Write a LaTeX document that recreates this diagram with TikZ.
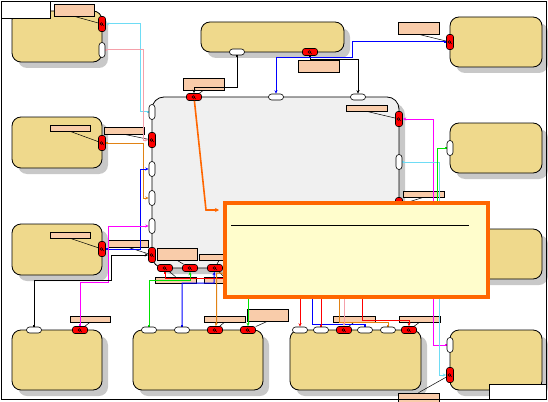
\documentclass[tikz,border=0pt]{standalone}
\usepackage{tikz}
\usetikzlibrary{arrows.meta,shadows}
\pgfdeclarelayer{parts}
\pgfdeclarelayer{wires}
\pgfsetlayers{parts,wires,main}
\definecolor{partYellow}{RGB}{239,217,140}
\definecolor{shadowGray}{RGB}{200,200,200}
\definecolor{coreGray}{RGB}{240,240,240}
\definecolor{tagPeach}{RGB}{249,204,170}
\definecolor{portRed}{RGB}{255,0,0}
\definecolor{noteFill}{RGB}{255,253,204}
\definecolor{noteEdge}{RGB}{255,102,0}
\definecolor{wireCyan}{RGB}{110,220,245}
\definecolor{wirePink}{RGB}{245,160,170}
\definecolor{wireOrange}{RGB}{225,130,20}
\definecolor{wireBlue}{RGB}{0,0,255}
\definecolor{wireMagenta}{RGB}{255,0,255}
\definecolor{wireGreen}{RGB}{0,225,0}
\definecolor{wireRed}{RGB}{255,0,0}
\tikzset{
  part box/.style={draw=black,line width=0.8pt,fill=partYellow,rounded corners=9pt,inner sep=0pt,
    drop shadow={shadow xshift=6pt,shadow yshift=-6pt,fill=shadowGray,opacity=1}},
  core box/.style={part box,fill=coreGray,rounded corners=12pt},
  tag box/.style={draw=black,line width=0.6pt,fill=tagPeach,inner sep=0pt},
  tag line/.style={draw=black,line width=0.5pt},
  port white v/.style={draw=black,line width=0.6pt,fill=white,rounded corners=3pt,inner sep=0pt,minimum width=6pt,minimum height=15pt},
  port white h/.style={port white v,minimum width=15pt,minimum height=6pt},
  port red v/.style={port white v,fill=portRed,rounded corners=2.5pt,minimum width=7pt,
    path picture={\draw[line width=0.45pt] ([xshift=-0.6pt]path picture bounding box.center) circle[radius=1.4pt] ++(1.2pt,-0.8pt) -- ++(1.3pt,-1.2pt);}},
  port red h/.style={port red v,minimum width=15pt,minimum height=7pt},
  wire/.style={line width=1pt,{Square[length=2pt,width=2pt]}-{Stealth[length=3.5pt,width=3pt]}},
  wire sq end/.style={line width=1pt,-{Square[length=2pt,width=2pt]}},
  note arrow/.style={line width=1.6pt,draw=noteEdge,-{Stealth[length=4pt,width=4pt]}}
}
\begin{document}
\begin{tikzpicture}[x=1pt,y=-1pt]
    \useasboundingbox (0,0) rectangle (548,401);
    \begin{pgfonlayer}{parts}
    \node[part box,minimum width=90pt,minimum height=51pt] (tlBox) at (57,36.5) {};
    \node[part box,minimum width=143pt,minimum height=30pt] (topBox) at (272.5,37) {};
    \node[part box,minimum width=92pt,minimum height=50pt] (trBox) at (496,42) {};
    \node[part box,minimum width=90pt,minimum height=51pt] (laBox) at (57,142.5) {};
    \node[part box,minimum width=90pt,minimum height=51pt] (lbBox) at (57,249.5) {};
    \node[part box,minimum width=92pt,minimum height=50pt] (raBox) at (496,148) {};
    \node[part box,minimum width=92pt,minimum height=50pt] (rbBox) at (496,254) {};
    \node[part box,minimum width=90pt,minimum height=60pt] (baBox) at (57,360) {};
    \node[part box,minimum width=130pt,minimum height=60pt] (bbBox) at (198,360) {};
    \node[part box,minimum width=131pt,minimum height=60pt] (bcBox) at (355.5,360) {};
    \node[part box,minimum width=92pt,minimum height=60pt] (bdBox) at (496,360) {};
    \node[core box,minimum width=247pt,minimum height=171pt] (coreBox) at (275.5,182.5) {};
    % tags
    \node[tag box,minimum width=40pt,minimum height=12pt] (tagA) at (74,10) {};
    \node[tag box,minimum width=41pt,minimum height=12pt] (tagB) at (203.5,84) {};
    \node[tag box,minimum width=41pt,minimum height=12pt] (tagC) at (318.5,66) {};
    \node[tag box,minimum width=41pt,minimum height=12pt] (tagD) at (418.5,28) {};
    \node[tag box,minimum width=40pt,minimum height=7pt] (tagE) at (124,130.5) {};
    \node[tag box,minimum width=40pt,minimum height=6pt] (tagF) at (70,128) {};
    \node[tag box,minimum width=41pt,minimum height=6pt] (tagG) at (366.5,108) {};
    \node[tag box,minimum width=41pt,minimum height=6pt] (tagH) at (423.5,194) {};
    \node[tag box,minimum width=40pt,minimum height=6pt] (tagI) at (70,235) {};
    \node[tag box,minimum width=40pt,minimum height=7pt] (tagJ) at (128,243.5) {};
    \node[tag box,minimum width=40pt,minimum height=12pt] (tagK) at (177,254) {};
    \node[tag box,minimum width=40pt,minimum height=6pt] (tagL) at (219,257) {};
    \node[tag box,minimum width=41pt,minimum height=6pt] (tagM) at (175.5,280) {};
    \node[tag box,minimum width=40pt,minimum height=6pt] (tagN) at (224,280) {};
    \node[tag box,minimum width=40pt,minimum height=6pt] (tagO) at (90,319) {};
    \node[tag box,minimum width=41pt,minimum height=6pt] (tagP) at (224.5,319) {};
    \node[tag box,minimum width=41pt,minimum height=12pt] (tagQ) at (267.5,315) {};
    \node[tag box,minimum width=42pt,minimum height=6pt] (tagR) at (354,319) {};
    \node[tag box,minimum width=41pt,minimum height=6pt] (tagS) at (419.5,319) {};
    \node[tag box,minimum width=41pt,minimum height=10pt] (tagT) at (418.5,398) {};
    \end{pgfonlayer}
    % ports
    \path (102,24) node[port red v] (tlR) {} (102,50) node[port white v] (tlW) {};
    \path (237,52) node[port white h] (topW) {} (310,52) node[port red h] (topR) {};
    \path (450,42) node[port red v] (trR) {};
    \path (102,143) node[port red v] (laR) {};
    \path (102,249) node[port red v] (lbR) {};
    \path (450,148) node[port white v] (raW) {};
    \path (34,330) node[port white h] (baW) {} (80,330) node[port red h] (baR) {};
    \path (149,330) node[port white h] (bbW1) {} (182,330) node[port white h] (bbW2) {}
          (215,330) node[port red h] (bbR1) {} (248,330) node[port red h] (bbR2) {};
    \path (300,330) node[port white h] (bcW1) {} (321,330) node[port white h] (bcW2) {}
          (344,330) node[port red h] (bcR1) {} (365,330) node[port white h] (bcW3) {}
          (388,330) node[port white h] (bcW4) {} (409,330) node[port red h] (bcR2) {};
    \path (450,345) node[port white v] (bdW) {} (450,375) node[port red v] (bdR) {};
    \path (194,97) node[port red h] (cTR) {} (276,97) node[port white h] (cTW1) {}
          (358,97) node[port white h] (cTW2) {};
    \path (152,112) node[port white v] (cLW1) {} (152,140) node[port red v] (cLR1) {}
          (152,169) node[port white v] (cLW2) {} (152,198) node[port white v] (cLW3) {}
          (152,226) node[port white v] (cLW4) {} (152,255) node[port red v] (cLR2) {};
    \path (399,119) node[port red v] (cRR1) {} (399,162) node[port white v] (cRW1) {}
          (399,205) node[port red v] (cRR2) {};
    \path (165,268) node[port red h] (cBR1) {} (190,268) node[port red h] (cBR2) {}
          (215,268) node[port red h] (cBR3) {};
    % wire ends hidden under the note
    \coordinate (srcOr) at (240,273);
    \coordinate (srcGr) at (248,285);
    \coordinate (srcBl) at (312,285);
    \coordinate (srcRd) at (321,285);
    \coordinate (srcOr2) at (339,285);
    \coordinate (srcPk) at (344,285);
    \coordinate (srcRd2) at (362,285);
    \coordinate (noteTip) at (219,210);
    \begin{pgfonlayer}{wires}
    \draw[tag line] (tagA.south) -- (tlR);
    \draw[tag line] (tagB.south) -- (cTR);
    \draw[tag line] ([xshift=-8pt]tagC.north) -- (topR);
    \draw[tag line] (tagD.south) -- (trR);
    \draw[tag line] (tagE.south) -- (cLR1);
    \draw[tag line] (tagF.south) -- (laR);
    \draw[tag line] (tagG.south) -- (cRR1);
    \draw[tag line] (tagH.south) -- (cRR2);
    \draw[tag line] (tagI.south) -- (lbR);
    \draw[tag line] (tagJ.south) -- (cLR2);
    \draw[tag line] (tagK.south) -- (cBR2);
    \draw[tag line] (tagL.south) -- (cBR3);
    \draw[tag line] (tagM.north) -- (cBR1);
    \draw[tag line] (tagN.north) -- (cBR3);
    \draw[tag line] (tagO.south) -- (baR);
    \draw[tag line] (tagP.south) -- (bbR1);
    \draw[tag line] (tagQ.south) -- (bbR2);
    \draw[tag line] (tagR.south) -- (bcR1);
    \draw[tag line] (tagS.south) -- (bcR2);
    \draw[tag line] (tagT.north) -- (bdR);
    % wires
    \draw[wire,wireCyan] (cLW1) -- (140,112) -- (140,24) -- (tlR);
    \draw[wire,wirePink] (tlW) -- (143,50) -- (143,140) -- (cLR1);
    \draw[wire,wireOrange] (laR) -- (143,143) -- (143,198) -- (cLW3);
    \draw[wire,wireBlue] (lbR) -- (140,249) -- (140,169) -- (cLW2);
    \draw[wire,wireMagenta] (baR) -- (80,282) -- (108,282) -- (108,226) -- (cLW4);
    \draw[wire,black] (baW) -- (34,280) -- (111,280) -- (111,255) -- (cLR2);
    \draw[wire,black] (topW) -- (237,88) -- (194,88) -- (cTR);
    \draw[wire,black] (topR) -- (310,60) -- (358,60) -- (cTW2);
    \draw[wire,wireBlue] (trR) -- (352,42) -- (352,58) -- (276,58) -- (cTW1);
    \draw[wire,wireGreen] (bbW1) -- (149,280) -- (190,280) -- (cBR2);
    \draw[wire,wireBlue] (bbW2) -- (182,283) -- (214,283) -- (214,275) -- (cBR3);
    \draw[wire,wireRed] (cBR1) -- (165,278) -- (300,278) -- (bcW1);
    \draw[wire,wireOrange] (srcOr) -- (216.5,273) -- (216.5,322) -- (bbR1);
    \draw[wire,wireGreen] (srcGr) -- (bbR2);
    \draw[wire sq end,wireBlue] (srcBl) -- (312,324) -- (365,324) -- (bcW3);
    \draw[wire sq end,wireRed] (srcRd) -- (bcW2);
    \draw[wire sq end,wireOrange] (srcOr2) -- (339,322) -- (388,322) -- (bcW4);
    \draw[wire,wirePink] (srcPk) -- (bcR1);
    \draw[wire,wireRed] (srcRd2) -- (362,320) -- (409,320) -- (bcR2);
    \draw[wire,wireMagenta] (bdW) -- (433,345) -- (433,119) -- (cRR1);
    \draw[wire,wireCyan] (cRW1) -- (439,162) -- (439,375) -- (bdR);
    \draw[wire,wireGreen] (raW) -- (437,148) -- (437,205) -- (cRR2);
    \end{pgfonlayer}
    % note
    \node[draw=noteEdge,line width=3.5pt,fill=noteFill,inner sep=0pt,minimum width=263pt,minimum height=94pt] (note) at (356.5,250) {};
    \draw[line width=0.8pt] (231,225) -- (469,225);
    \draw[note arrow] (cTR) -- (206,210) -- (noteTip);
    % corner boxes and frame
    \node[draw=black,line width=0.8pt,fill=white,inner sep=0pt,minimum width=49pt,minimum height=17pt] (cornerTL) at (25.5,9.5) {};
    \node[draw=black,line width=0.8pt,fill=white,inner sep=0pt,minimum width=57pt,minimum height=15pt] (cornerBR) at (517.5,391.5) {};
    \draw[line width=0.8pt] (1.5,1) rectangle (546,399);
  \end{tikzpicture}
\end{document}
